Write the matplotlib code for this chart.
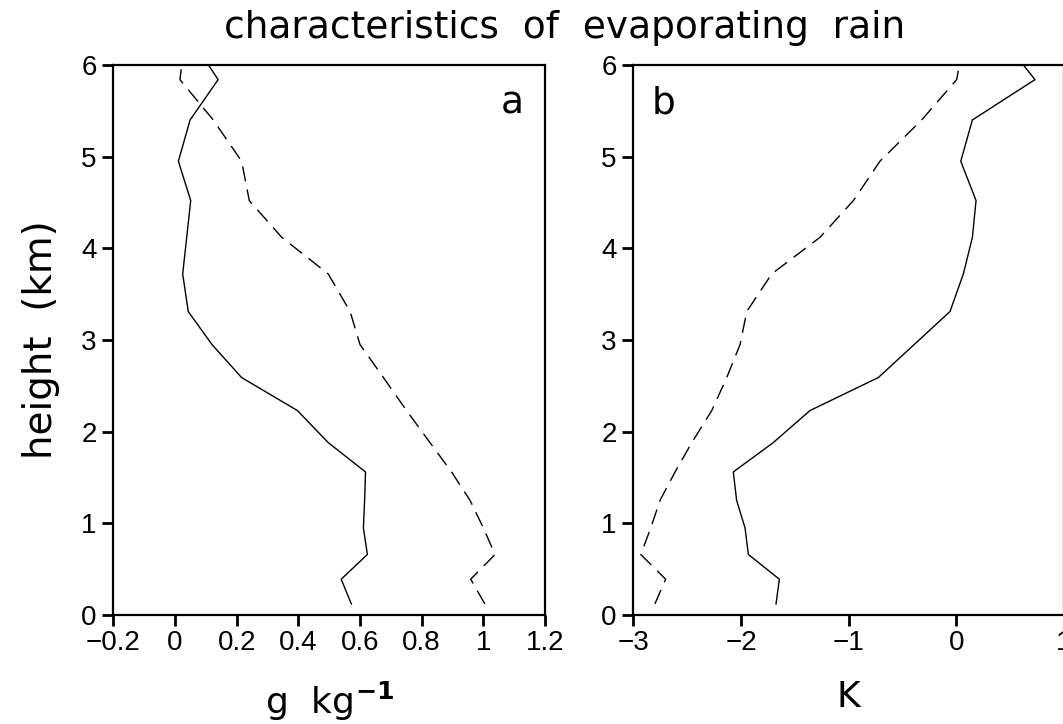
import matplotlib
matplotlib.use("Agg")
import matplotlib.pyplot as plt

# model levels (km)
height = [0.12, 0.39, 0.66, 0.95, 1.25, 1.56, 1.88, 2.23, 2.59, 2.95,
          3.31, 3.72, 4.12, 4.52, 4.95, 5.40, 5.84, 6.30]

# panel a: g/kg
a_solid = [0.572, 0.539, 0.624, 0.611, 0.615, 0.618, 0.497, 0.397, 0.216, 0.12,
           0.043, 0.025, 0.038, 0.051, 0.011, 0.049, 0.140, 0.049]
a_dash = [1.005, 0.959, 1.038, 1.000, 0.957, 0.897, 0.827, 0.751, 0.676, 0.600,
          0.568, 0.497, 0.346, 0.241, 0.216, 0.124, 0.016, 0.033]

# panel b: K
b_solid = [-1.674, -1.643, -1.931, -1.962, -2.040, -2.071, -1.700, -1.358, -0.723, -0.39,
           -0.057, 0.067, 0.151, 0.185, 0.043, 0.151, 0.733, 0.42]
b_dash = [-2.80, -2.70, -2.931, -2.838, -2.752, -2.612, -2.457, -2.271, -2.132, -2.008,
          -1.946, -1.714, -1.265, -0.955, -0.708, -0.320, 0.005, 0.076]

a_ticks = [-0.2, 0, 0.2, 0.4, 0.6, 0.8, 1, 1.2]
a_labels = ["\u22120.2", "0", "0.2", "0.4", "0.6", "0.8", "1", "1.2"]
b_ticks = [-3, -2, -1, 0, 1]
b_labels = ["\u22123", "\u22122", "\u22121", "0", "1"]

plt.rcParams['font.family'] = ['Liberation Sans', 'DejaVu Sans']

fig = plt.figure(figsize=(10.63, 7.24), dpi=100)
ax1 = fig.add_axes([0.1066, 0.1506, 0.4061, 0.7597])
ax2 = fig.add_axes([0.5958, 0.1506, 0.4049, 0.7597])

for ax, solid, dash in [(ax1, a_solid, a_dash), (ax2, b_solid, b_dash)]:
    ax.plot(solid, height, color='black', lw=1.0)
    ax.plot(dash, height, color='black', lw=1.0, dashes=(11, 6))
    ax.set_ylim(0, 6)
    ax.set_yticks(range(7))
    ax.tick_params(direction='out', length=8, width=2, labelsize=20)
    ax.tick_params(axis='x', pad=3)
    ax.tick_params(axis='y', pad=4)
    for s in ax.spines.values():
        s.set_linewidth(1.6)

ax1.set_xlim(-0.2, 1.2)
ax1.set_xticks(a_ticks)
ax1.set_xticklabels(a_labels)
ax2.set_xlim(-3, 1)
ax2.set_xticks(b_ticks)
ax2.set_xticklabels(b_labels)

ax1.set_ylabel("height  (km)", family='DejaVu Sans', fontsize=28, labelpad=15)
ax1.set_xlabel("g  kg$^{\\mathbf{-1}}$", family='DejaVu Sans', fontsize=26, labelpad=17)
ax2.set_xlabel("K", family='DejaVu Sans', fontsize=26, labelpad=17)

ax1.text(0.95, 0.93, "a", transform=ax1.transAxes, family='DejaVu Sans',
         fontsize=27, ha='right', va='center')
ax2.text(0.07, 0.93, "b", transform=ax2.transAxes, family='DejaVu Sans',
         fontsize=27, ha='center', va='center')

fig.text(0.531, 0.9475, "characteristics  of  evaporating  rain", family='DejaVu Sans',
         fontsize=27, ha='center', va='baseline')

fig.savefig("out.png", dpi=100)
